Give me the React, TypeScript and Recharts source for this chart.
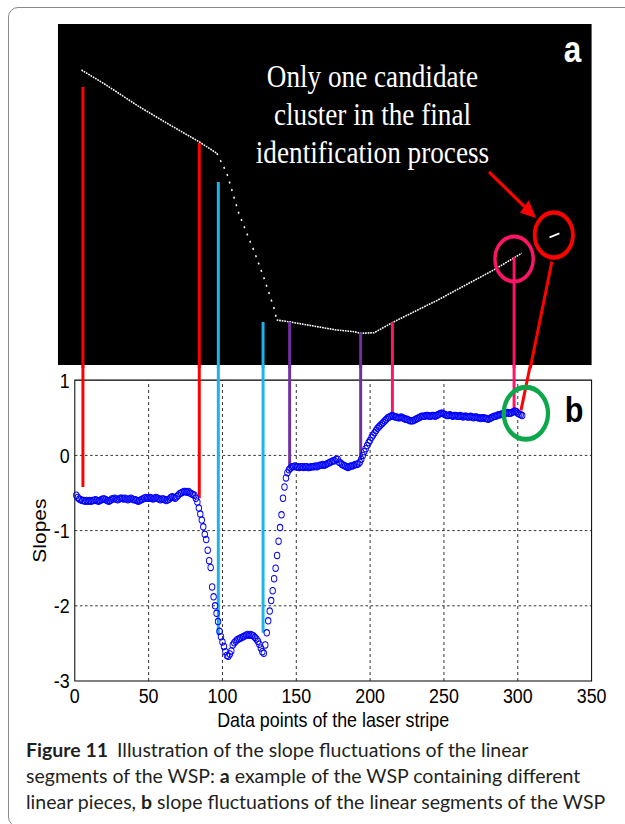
import React from 'react';
import {
  ComposedChart,
  XAxis,
  YAxis,
  Scatter,
  Line,
  ReferenceArea,
  ReferenceLine,
  ReferenceDot,
} from 'recharts';

// ---------- data (panel b: slope of each data point of the laser stripe) ----------
const slopes: number[] = [
  -0.53, -0.56, -0.58, -0.59, -0.6, -0.6, -0.61, -0.6, -0.61, -0.6,
  -0.61, -0.6, -0.6, -0.59, -0.6, -0.61, -0.6, -0.59, -0.58, -0.58,
  -0.59, -0.6, -0.61, -0.6, -0.58, -0.58, -0.57, -0.58, -0.59, -0.58,
  -0.57, -0.57, -0.58, -0.57, -0.58, -0.59, -0.58, -0.57, -0.58, -0.59,
  -0.59, -0.6, -0.61, -0.6, -0.59, -0.58, -0.57, -0.56, -0.57, -0.57,
  -0.56, -0.57, -0.58, -0.57, -0.56, -0.57, -0.58, -0.59, -0.58, -0.58,
  -0.59, -0.6, -0.59, -0.58, -0.56, -0.55, -0.56, -0.57, -0.55, -0.53,
  -0.51, -0.5, -0.49, -0.48, -0.48, -0.49, -0.48, -0.5, -0.51, -0.52,
  -0.53, -0.57, -0.62, -0.7, -0.78, -0.86, -0.95, -1.05, -1.12, -1.26,
  -1.4, -1.49, -1.75, -1.88, -2.0, -2.1, -2.21, -2.34, -2.41, -2.48,
  -2.54, -2.61, -2.66, -2.67, -2.64, -2.6, -2.52, -2.49, -2.47, -2.45,
  -2.44, -2.43, -2.42, -2.41, -2.4, -2.39, -2.38, -2.39, -2.38, -2.39,
  -2.4, -2.42, -2.44, -2.47, -2.51, -2.56, -2.61, -2.63, -2.52, -2.36,
  -2.2, -2.07, -1.93, -1.8, -1.64, -1.5, -1.33, -1.14, -0.96, -0.79,
  -0.57, -0.42, -0.3, -0.23, -0.19, -0.17, -0.15, -0.15, -0.14, -0.15,
  -0.15, -0.16, -0.15, -0.15, -0.16, -0.15, -0.15, -0.16, -0.16, -0.15,
  -0.15, -0.15, -0.14, -0.15, -0.14, -0.13, -0.13, -0.12, -0.13, -0.12,
  -0.11, -0.1, -0.09, -0.08, -0.07, -0.07, -0.05, -0.05, -0.09, -0.1,
  -0.12, -0.13, -0.14, -0.15, -0.16, -0.15, -0.14, -0.14, -0.13, -0.12,
  -0.12, -0.11, -0.09, -0.05, 0.0, 0.05, 0.09, 0.13, 0.17, 0.2,
  0.24, 0.27, 0.3, 0.33, 0.36, 0.38, 0.4, 0.42, 0.44, 0.46,
  0.48, 0.5, 0.51, 0.52, 0.53, 0.52, 0.51, 0.51, 0.5, 0.5,
  0.51, 0.5, 0.49, 0.48, 0.48, 0.47, 0.46, 0.46, 0.46, 0.47,
  0.48, 0.49, 0.5, 0.51, 0.52, 0.52, 0.52, 0.53, 0.53, 0.52,
  0.52, 0.53, 0.53, 0.52, 0.53, 0.54, 0.55, 0.56, 0.56, 0.55,
  0.54, 0.53, 0.53, 0.54, 0.53, 0.52, 0.53, 0.53, 0.52, 0.52,
  0.53, 0.52, 0.51, 0.52, 0.52, 0.51, 0.51, 0.52, 0.51, 0.5,
  0.51, 0.51, 0.5, 0.5, 0.49, 0.5, 0.5, 0.49, 0.49, 0.48,
  0.49, 0.5, 0.51, 0.52, 0.52, 0.53, 0.54, 0.54, 0.55, 0.55,
  0.56, 0.56, 0.57, 0.56, 0.56, 0.57, 0.58, 0.59, 0.58, 0.56,
  0.55, 0.54, 0.53,
];

// ---------- panel a: laser stripe profile [data index, height in image] ----------
const stripeUpper: [number, number][] = [
  [4.5, 295], [19.4, 281.7], [43.6, 258.3], [62.5, 241.7], [84.1, 223.3], [96.2, 211.7],
];
const stripeSteep: [number, number][] = [
  [96.2, 211.7], [102.9, 192], [111, 152], [121.9, 112], [128.6, 85], [135.3, 55], [136.7, 45],
];
const stripeLower: [number, number][] = [
  [136.7, 45], [144.8, 43.3], [177.2, 35], [189.3, 33.3], [193.4, 31.7], [202.8, 32.3],
  [214.9, 42.3], [245.9, 65], [283.7, 95], [302.6, 111.7],
];
const stripeCluster: [number, number][] = [[321.5, 127.7], [328.2, 131.7]];

// ---------- connectors between panel a and panel b ----------
const connectorX = [5.5, 84.3, 97.2, 127.5, 145.5, 193.6, 215.1, 297.5];
const connectorTop = [278, 222, 183, 43, 43, 32, 43, 108];
const connectorBottom = [-0.42, -0.57, -2.39, -2.36, -0.17, -0.06, 0.56, 0.58];

// ---------- axes ----------
const xTicks = [0, 50, 100, 150, 200, 250, 300, 350];
const yTicks = [-3, -2, -1, 0, 1];
const gridX = [50, 100, 150, 200, 250, 300];
const gridY = [-2, -1, 0];

const annotationLines = ['Only one candidate', 'cluster in the final', 'identification process'];
const annotationH = [289.4, 251.4, 213.4];

// ---------- styles ----------
const RED = '#ff0000';
const CYAN = '#1db4ea';
const PURPLE = '#7030a0';
const PINK = '#ff1468';
const GREEN = '#0ca64b';
const BLUE = '#0000ff';
const connectorColors = [RED, RED, CYAN, CYAN, PURPLE, PURPLE, PINK, PINK];

const SANS = '"Liberation Sans", Arial, sans-serif';
const SERIF = '"Liberation Serif", "Times New Roman", serif';
const SCALE_X = 0.85;
const CHART_W = 736;
const CHART_H = 745;

const toPts = (arr: [number, number][]) => arr.map(([x, h]) => ({ x, h }));

const Ring = (props: any) => {
  const { cx, cy } = props;
  return <circle cx={cx} cy={cy} r={3.2} fill="none" stroke={BLUE} strokeWidth={1.1} />;
};

const ArrowShape = (props: any) => {
  const { x1, y1, x2, y2 } = props;
  const dx = x2 - x1;
  const dy = y2 - y1;
  const len = Math.hypot(dx, dy) || 1;
  const ux = dx / len;
  const uy = dy / len;
  const headL = 18;
  const headW = 8;
  const bx = x2 - ux * headL;
  const by = y2 - uy * headL;
  const px = -uy;
  const py = ux;
  return (
    <g>
      <line x1={x1} y1={y1} x2={bx} y2={by} stroke={RED} strokeWidth={3.5} />
      <polygon
        points={`${x2},${y2} ${bx + px * headW},${by + py * headW} ${bx - px * headW},${by - py * headW}`}
        fill={RED}
      />
    </g>
  );
};

export default function App() {
  const slopeData = slopes.map((s, i) => ({ x: i + 1, s }));
  const lineStyle = { stroke: '#ffffff', dot: false, isAnimationActive: false, yAxisId: 'img' } as any;

  return (
    <div
      style={{
        position: 'absolute',
        left: 0,
        top: 0,
        width: 625,
        height: 824,
        overflow: 'hidden',
        background: '#fff',
      }}
    >
      <div
        style={{
          position: 'absolute',
          left: 8,
          top: 7,
          width: 700,
          height: 820,
          border: '1px solid #8a8a8a',
          borderRadius: 10,
          boxSizing: 'border-box',
        }}
      />
      <div
        style={{
          position: 'absolute',
          left: 0,
          top: 0,
          width: CHART_W,
          height: CHART_H,
          transform: `scaleX(${SCALE_X})`,
          transformOrigin: '0 0',
        }}
      >
        <ComposedChart width={CHART_W} height={CHART_H} margin={{ top: 23, right: 40, bottom: 38, left: 48 }}>
          <XAxis
            type="number"
            dataKey="x"
            domain={[0, 350]}
            ticks={xTicks}
            interval={0}
            axisLine={false}
            tickLine={false}
            tickSize={0}
            tickMargin={7}
            height={26}
            tick={{ fill: '#000', fontSize: 21, fontFamily: SANS }}
            label={{
              value: 'Data points of the laser stripe',
              position: 'bottom',
              offset: 5,
              fill: '#000',
              fontSize: 21,
              fontFamily: SANS,
            }}
          />
          <YAxis
            yAxisId="s"
            type="number"
            dataKey="s"
            domain={[-3, 5.75]}
            ticks={yTicks}
            interval={0}
            width={40}
            axisLine={false}
            tickLine={false}
            tickSize={0}
            tickMargin={6}
            tick={{ fill: '#000', fontSize: 21, fontFamily: SANS }}
          />
          <YAxis
            yAxisId="img"
            orientation="right"
            type="number"
            dataKey="h"
            domain={[-316, 342]}
            width={0}
            hide
          />

          {/* panel a background */}
          <ReferenceArea
            yAxisId="img"
            x1={-11.4}
            x2={350}
            y1={0}
            y2={341}
            fill="#000"
            fillOpacity={1}
            stroke="none"
            ifOverflow="visible"
          />

          {/* panel b grid and box */}
          {gridX.map((v) => (
            <ReferenceLine
              key={`gx${v}`}
              yAxisId="s"
              segment={[{ x: v, y: -3 }, { x: v, y: 1 }]}
              stroke="#222"
              strokeWidth={1}
              strokeDasharray="3 3"
              ifOverflow="visible"
            />
          ))}
          {gridY.map((v) => (
            <ReferenceLine
              key={`gy${v}`}
              yAxisId="s"
              segment={[{ x: 0, y: v }, { x: 350, y: v }]}
              stroke="#222"
              strokeWidth={1}
              strokeDasharray="3 3"
              ifOverflow="visible"
            />
          ))}
          <ReferenceArea
            yAxisId="s"
            x1={0}
            x2={350}
            y1={-3}
            y2={1}
            fill="none"
            fillOpacity={0}
            stroke="#000"
            strokeWidth={1.2}
            ifOverflow="visible"
          />

          {/* laser stripe in panel a */}
          <Line {...lineStyle} data={toPts(stripeUpper)} dataKey="h" strokeWidth={1.6} strokeDasharray="2 1" />
          <Line {...lineStyle} data={toPts(stripeSteep)} dataKey="h" strokeWidth={1.8} strokeDasharray="2 6" />
          <Line {...lineStyle} data={toPts(stripeLower)} dataKey="h" strokeWidth={1.6} strokeDasharray="2 1" />
          <Line {...lineStyle} data={toPts(stripeCluster)} dataKey="h" strokeWidth={1.8} />

          {/* slope data */}
          <Scatter yAxisId="s" data={slopeData} isAnimationActive={false} shape={Ring} />

          {/* connectors */}
          {connectorX.map((x, k) => (
            <ReferenceLine
              key={`ca${k}`}
              yAxisId="img"
              segment={[{ x, y: connectorTop[k] }, { x, y: -3 }]}
              stroke={connectorColors[k]}
              strokeWidth={3.5}
              ifOverflow="visible"
            />
          ))}
          {connectorX.map((x, k) => (
            <ReferenceLine
              key={`cb${k}`}
              yAxisId="s"
              segment={[{ x, y: 1.2 }, { x, y: connectorBottom[k] }]}
              stroke={connectorColors[k]}
              strokeWidth={3.5}
              ifOverflow="visible"
            />
          ))}
          <ReferenceLine
            yAxisId="img"
            segment={[{ x: 323.1, y: 103.3 }, { x: 308.5, y: -3 }]}
            stroke={RED}
            strokeWidth={3.5}
            ifOverflow="visible"
          />
          <ReferenceLine
            yAxisId="s"
            segment={[{ x: 308.5, y: 1.2 }, { x: 302.2, y: 0.6 }]}
            stroke={RED}
            strokeWidth={3.5}
            ifOverflow="visible"
          />
          <ReferenceLine
            yAxisId="img"
            segment={[{ x: 280.5, y: 193 }, { x: 312.4, y: 147 }]}
            stroke={RED}
            ifOverflow="visible"
            shape={ArrowShape}
          />

          {/* rings */}
          <ReferenceDot yAxisId="img" x={297.5} y={106} r={22.5} fill="none" stroke={PINK} strokeWidth={4} ifOverflow="visible" />
          <ReferenceDot yAxisId="img" x={324.4} y={130} r={22.5} fill="none" stroke={RED} strokeWidth={4.5} ifOverflow="visible" />
          <ReferenceDot yAxisId="s" x={305.5} y={0.56} r={26} fill="none" stroke={GREEN} strokeWidth={5} ifOverflow="visible" />

          {/* texts */}
          {annotationLines.map((t, k) => (
            <ReferenceDot
              key={`an${k}`}
              yAxisId="img"
              x={201.6}
              y={annotationH[k]}
              r={0}
              fill="none"
              stroke="none"
              ifOverflow="visible"
              label={{ value: t, position: 'center', fill: '#fff', fontSize: 32, fontFamily: SERIF }}
            />
          ))}
          <ReferenceDot
            yAxisId="img"
            x={337}
            y={316}
            r={0}
            fill="none"
            stroke="none"
            ifOverflow="visible"
            label={{ value: 'a', position: 'center', fill: '#fff', fontSize: 37, fontWeight: 'bold', fontFamily: SANS }}
          />
          <ReferenceDot
            yAxisId="s"
            x={338.1}
            y={0.612}
            r={0}
            fill="none"
            stroke="none"
            ifOverflow="visible"
            label={{ value: 'b', position: 'center', fill: '#000', fontSize: 36, fontWeight: 'bold', fontFamily: SANS }}
          />
          <ReferenceDot
            yAxisId="s"
            x={-23.6}
            y={-1}
            r={0}
            fill="none"
            stroke="none"
            ifOverflow="visible"
            label={{ value: 'Slopes', position: 'center', angle: -90, fill: '#000', fontSize: 21, fontFamily: SANS }}
          />
        </ComposedChart>
      </div>

      {/* caption */}
      <div
        style={{
          position: 'absolute',
          left: 26,
          top: 737,
          fontFamily: 'Lato, "Noto Sans", sans-serif',
          fontSize: 19.5,
          lineHeight: '26px',
          color: '#231f20',
          whiteSpace: 'nowrap',
        }}
      >
        <div>
          <b>Figure 11</b>
          <span style={{ marginLeft: 9 }}>Illustration of the slope fluctuations of the linear</span>
        </div>
        <div>
          segments of the WSP: <b>a</b> example of the WSP containing different
        </div>
        <div>
          linear pieces, <b>b</b> slope fluctuations of the linear segments of the WSP
        </div>
      </div>
    </div>
  );
}
